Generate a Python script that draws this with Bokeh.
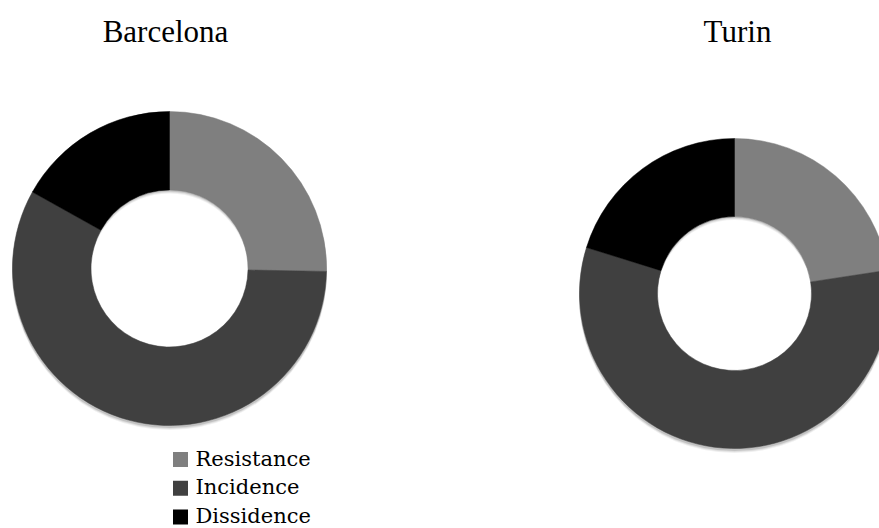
import numpy as np
from bokeh.plotting import figure
from bokeh.models import Range1d, ColumnDataSource
from bokeh.core.properties import value
from bokeh.embed import file_html
from bokeh.resources import INLINE

# Shares of each response type per city (percent)
categories = ["Resistance", "Incidence", "Dissidence"]
cities = ["Barcelona", "Turin"]
barcelona = [25.3, 57.8, 16.9]
turin = [22.6, 57.2, 20.2]
colors = ["#7f7f7f", "#404040", "#000000"]

W, H = 879, 528
p = figure(width=W, height=H, output_backend="svg", toolbar_location=None,
           x_range=Range1d(0, W), y_range=Range1d(0, H),
           x_axis_location=None, y_axis_location=None, min_border=0)
p.grid.visible = False
p.outline_line_color = None
p.background_fill_color = "white"
p.border_fill_color = "white"

# donut placement (pixel layout, y measured from the top)
layout = {
    "Barcelona": dict(cx=169, cy=268, r_out=157, r_in=78.5, tx=165),
    "Turin": dict(cx=734, cy=293, r_out=155, r_in=77, tx=737),
}


def donut(name, vals):
    g = layout[name]
    cx, cy = g["cx"], H - g["cy"]
    # soft drop shadow under the ring
    for off, a in [(4, 0.06), (3, 0.08), (2, 0.12)]:
        p.annulus(x=[cx], y=[cy - off], inner_radius=g["r_in"] + 0.5,
                  outer_radius=g["r_out"] + 0.5, fill_color="black",
                  fill_alpha=a, line_color=None)
    v = np.array(vals, dtype=float)
    frac = v / v.sum()
    cum = np.concatenate([[0], np.cumsum(frac)])
    start = np.pi / 2 - cum[:-1] * 2 * np.pi
    end = np.pi / 2 - cum[1:] * 2 * np.pi
    src = ColumnDataSource(dict(x=[cx] * len(v), y=[cy] * len(v),
                                start=start, end=end, color=colors))
    p.annular_wedge(x="x", y="y", inner_radius=g["r_in"], outer_radius=g["r_out"],
                    start_angle="start", end_angle="end", direction="clock",
                    fill_color="color", line_color="color", line_width=0.5,
                    source=src)
    p.text(x=[g["tx"]], y=[H - 31], text=[name], text_align="center",
           text_baseline="alphabetic", text_font=value("Liberation Serif"),
           text_font_size="31px", text_color="#000000")


donut("Barcelona", barcelona)
donut("Turin", turin)

# legend
leg_x, leg_y0, leg_dy = 180, 459, 28.8
ys = [H - (leg_y0 + i * leg_dy) for i in range(len(categories))]
p.scatter(x=[leg_x] * 3, y=ys, marker="square", size=15, fill_color=colors,
          line_color=None)
p.text(x=[leg_x + 15] * 3, y=[y + 1 for y in ys], text=categories,
       text_align="left", text_baseline="alphabetic",
       text_font=value("DejaVu Serif"), text_font_size="21px", text_color="#000000")

open("out.html", "w").write(file_html(p, INLINE))
